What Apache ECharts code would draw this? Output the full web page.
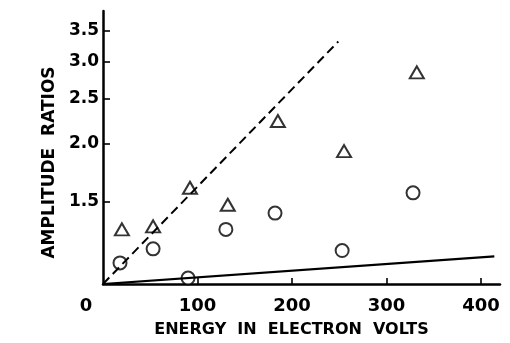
<!DOCTYPE html>
<html>
<head>
<meta charset="utf-8">
<script src="https://cdn.jsdelivr.net/npm/echarts@6/dist/echarts.min.js"></script>
<style>
html, body { margin: 0; padding: 0; background: #fff; }
#chart { width: 510px; height: 343px; }
</style>
</head>
<body>
<div id="chart"></div>
<script>
// values
const triangleEnergies = [20, 53, 92, 132, 185, 255, 332];
const triangleRatios = [1.31, 1.33, 1.61, 1.48, 2.24, 1.93, 2.85];
const circleEnergies = [18, 53, 90, 130, 182, 253, 328];
const circleRatios = [1.11, 1.19, 1.03, 1.31, 1.42, 1.18, 1.57];
const dashedLine = [[0, 1], [249, 3.32]];
const solidLine = [[0, 1], [414, 1.146]];
const xTicks = [0, 100, 200, 300, 400];
const yTicks = [1.5, 2.0, 2.5, 3.0, 3.5];

const font = 'DejaVu Sans';
const pairs = (xs, ys) => xs.map((x, i) => [x, ys[i]]);

let chart = echarts.init(document.getElementById('chart'));
const option = {
  animation: false,
  grid: { left: 103, right: 10, top: 11, bottom: 55 },
  xAxis: {
    type: 'value',
    min: 0,
    max: 420,
    interval: 100,
    name: 'ENERGY  IN  ELECTRON  VOLTS',
    nameLocation: 'middle',
    nameGap: 38,
    nameTextStyle: { fontFamily: font, fontSize: 16, fontWeight: 'bold', color: '#000', padding: [0, 20, 0, 0] },
    axisLine: { lineStyle: { color: '#000', width: 2.5 } },
    axisTick: { inside: true, length: 6, lineStyle: { color: '#000', width: 1.6 }, customValues: xTicks.slice(1) },
    axisLabel: {
      customValues: xTicks,
      margin: 13,
      fontFamily: font,
      fontSize: 18,
      fontWeight: 'bold',
      color: '#000',
      formatter: v => v === 0 ? '{z|0}' : String(v),
      rich: { z: { fontFamily: font, fontSize: 18, fontWeight: 'bold', color: '#000', padding: [0, 34, 0, 0] } }
    },
    splitLine: { show: false }
  },
  yAxis: {
    type: 'log',
    logBase: 10,
    min: 1,
    max: 3.86,
    name: 'AMPLITUDE  RATIOS',
    nameLocation: 'middle',
    nameGap: 37,
    nameTextStyle: { fontFamily: font, fontSize: 17, fontWeight: 'bold', color: '#000', padding: [0, 30, 0, 0] },
    axisLine: { lineStyle: { color: '#000', width: 2.5 } },
    axisTick: { inside: true, length: 7, lineStyle: { color: '#000', width: 1.6 }, customValues: yTicks },
    axisLabel: {
      customValues: yTicks,
      margin: 4,
      fontFamily: font,
      fontSize: 17,
      fontWeight: 'bold',
      color: '#000',
      formatter: v => Number(v).toFixed(1)
    },
    splitLine: { show: false }
  },
  series: [
    {
      type: 'line',
      data: dashedLine,
      symbol: 'none',
      lineStyle: { color: '#000', width: 2, type: [9, 5] }
    },
    {
      type: 'line',
      data: solidLine,
      symbol: 'none',
      lineStyle: { color: '#000', width: 2.2 }
    },
    {
      type: 'scatter',
      data: pairs(triangleEnergies, triangleRatios),
      symbol: 'triangle',
      symbolSize: [14, 12],
      itemStyle: { color: '#fff', borderColor: '#000', borderWidth: 2 }
    },
    {
      type: 'scatter',
      data: pairs(circleEnergies, circleRatios),
      symbol: 'circle',
      symbolSize: 13,
      itemStyle: { color: '#fff', borderColor: '#000', borderWidth: 2 }
    }
  ]
};
chart.setOption(option);
</script>
</body>
</html>
